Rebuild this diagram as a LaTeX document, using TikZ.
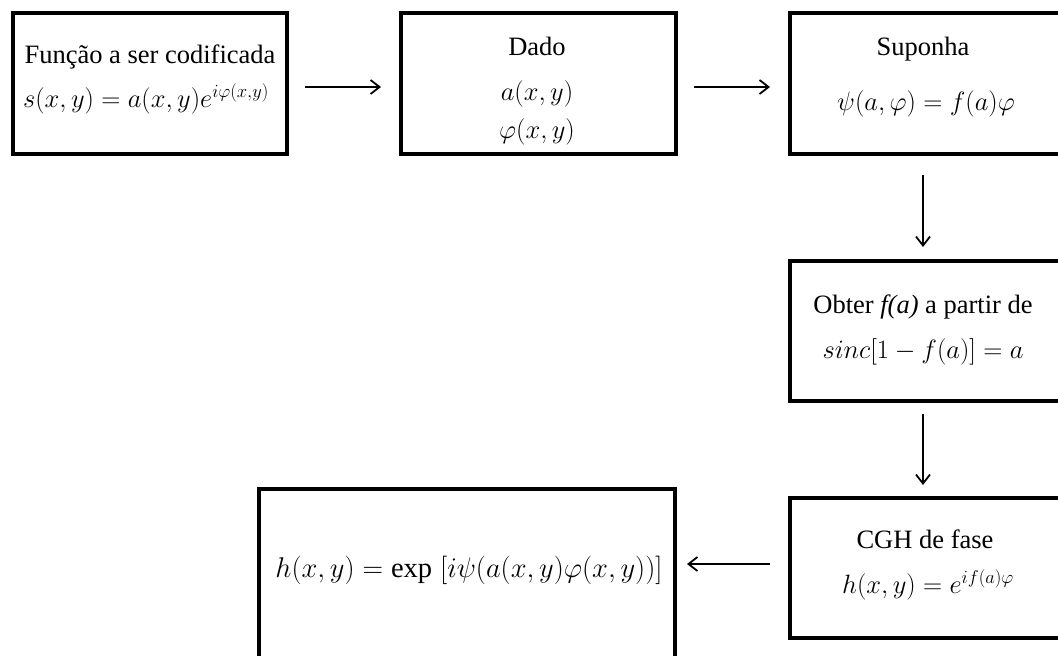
\RequirePackage{fix-cm}
\documentclass[tikz,border=0pt]{standalone}
\usepackage{fontspec}
\setmainfont{Liberation Serif}
\usetikzlibrary{arrows.meta}
\begin{document}
\begin{tikzpicture}[x=1pt,y=-1pt,
  box/.style={draw, line width=4pt, inner sep=0pt, minimum height=141pt},
  txt/.style={anchor=base, inner sep=0pt, font=\fontsize{26.5}{30}\selectfont},
  arr/.style={line width=1.8pt, -{Straight Barb[length=9pt,width=14pt]}}]
\useasboundingbox (0,0) rectangle (1058,656);
\clip (0,0) rectangle (1058,656);
% boxes
\node[box, minimum width=274pt] (b1) at (150,83.5) {};
\node[box, minimum width=275pt] (b2) at (538.5,83.5) {};
\node[box, minimum width=276pt] (b3) at (928,83.5) {};
\node[box, minimum width=276pt, minimum height=140pt] (b4) at (928,331) {};
\node[box, minimum width=276pt, minimum height=140pt] (b5) at (928,568) {};
\node[box, minimum width=416pt, minimum height=181pt] (b6) at (467,579.5) {};
% texts
\node[txt] (t1a) at (150,63) {Função a ser codificada};
\node[txt] (t1b) at (146,107) {$s(x,y)=a(x,y)e^{i\varphi(x,y)}$};
\node[txt] (t2a) at (537,55) {Dado};
\node[txt] (t2b) at (537,100) {$a(x,y)$};
\node[txt] (t2c) at (537,138) {$\varphi(x,y)$};
\node[txt] (t3a) at (923,55) {Suponha};
\node[txt] (t3b) at (926,110) {$\psi(a,\varphi)=f(a)\varphi$};
\node[txt] (t4a) at (923,313) {Obter \textit{f(a)} a partir de};
\node[txt] (t4b) at (923,358) {$sinc[1-f(a)]=a$};
\node[txt] (t5a) at (925,548) {CGH de fase};
\node[txt] (t5b) at (928,593) {$h(x,y)=e^{if(a)\varphi}$};
\node[txt, font=\fontsize{28.5}{32}\selectfont] (t6) at (469,577) {$h(x,y)=\mathrm{exp}\;[i\psi(a(x,y)\varphi(x,y))]$};
% connectors
\coordinate (c5) at ([yshift=4pt]b5.west);
\coordinate (c6) at (b6.east |- c5);
\draw[arr, shorten <=16pt, shorten >=18pt] ([yshift=-3.5pt]b1.east) -- ([yshift=-3.5pt]b2.west);
\draw[arr, shorten <=16pt, shorten >=18pt] ([yshift=-3.5pt]b2.east) -- ([yshift=-3.5pt]b3.west);
\draw[arr, shorten <=19pt, shorten >=12pt] ([xshift=-5pt]b3.south) -- ([xshift=-5pt]b4.north);
\draw[arr, shorten <=11pt, shorten >=11pt] ([xshift=-5pt]b4.south) -- ([xshift=-5pt]b5.north);
\draw[arr, shorten <=18pt, shorten >=10pt] (c5) -- (c6);
\end{tikzpicture}
\end{document}
